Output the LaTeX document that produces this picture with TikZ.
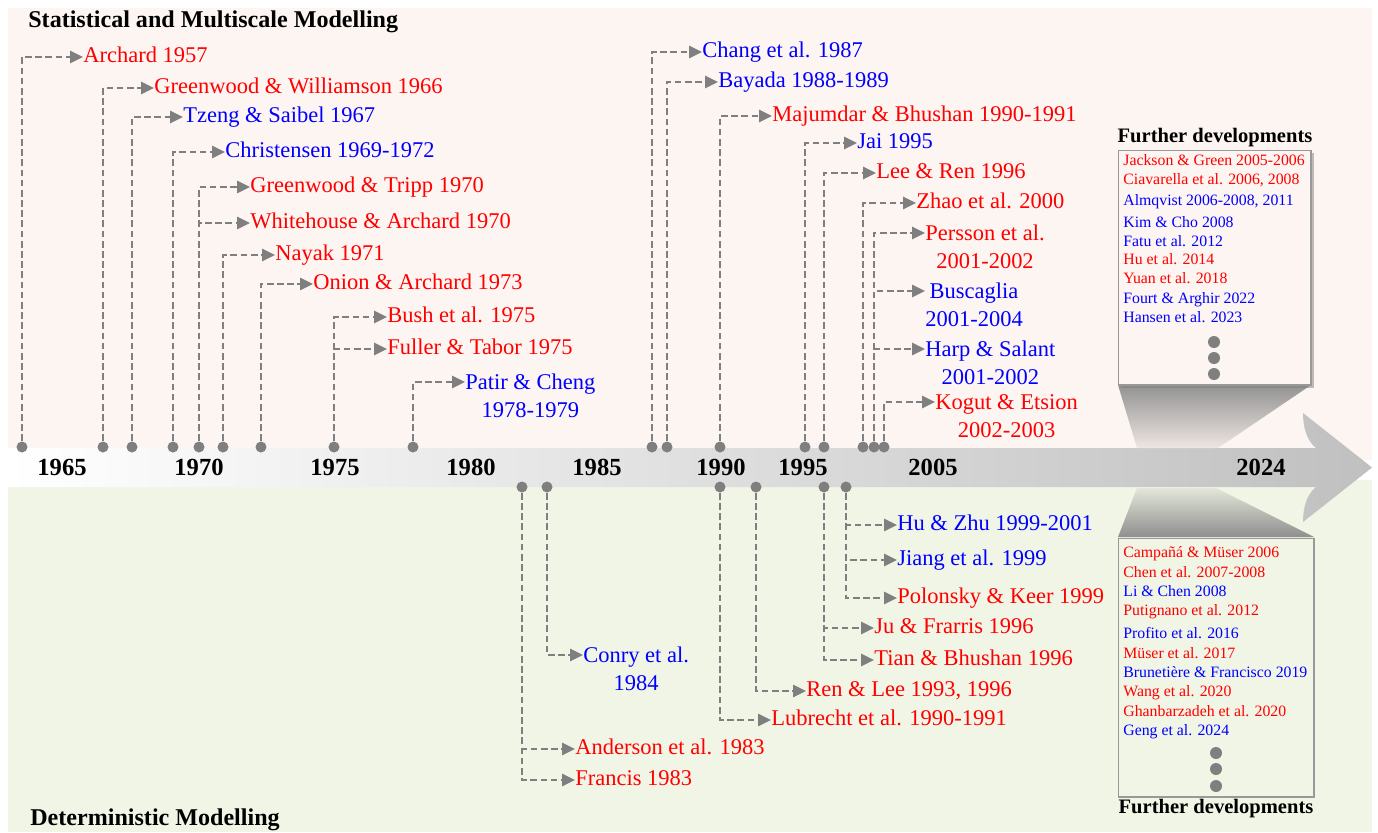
\documentclass[tikz,border=0pt]{standalone}
\usepackage{fontspec}
\setmainfont{Liberation Serif}
\usetikzlibrary{arrows.meta, shadows}
\definecolor{TopPink}{HTML}{FDF5F1}
\definecolor{LowGreen}{HTML}{F1F5E6}
\definecolor{LinkGray}{HTML}{7F7F7F}
\definecolor{RefRed}{HTML}{FF0000}
\definecolor{RefBlue}{HTML}{0000FF}
\definecolor{BandGray}{HTML}{C0C0C0}
\tikzset{
  evdot/.style={circle, fill=LinkGray, inner sep=0pt, minimum size=0.22cm},
  link/.style={-{Triangle[length=0.26cm, width=0.25cm]}, LinkGray, line width=0.9pt, dash pattern=on 3.8pt off 2pt},
  ref/.style={inner sep=0pt, anchor=west, align=center, font=\fontsize{12.8}{15.9}\selectfont},
  oneline/.style={text height=0.9em, text depth=0.22em},
  redref/.style={ref, oneline, text=RefRed},
  blueref/.style={ref, oneline, text=RefBlue},
  redtwo/.style={ref, text=RefRed},
  bluetwo/.style={ref, text=RefBlue},
  yearlbl/.style={inner sep=0pt, font=\fontsize{14}{16}\selectfont\bfseries},
  paneltitle/.style={anchor=west, inner sep=0pt, font=\fontsize{13.7}{16}\selectfont\bfseries},
  boxtitle/.style={inner sep=0pt, font=\fontsize{11.7}{14}\selectfont\bfseries},
  boxref/.style={anchor=west, inner sep=0pt, text height=0.8em, text depth=0.22em, font=\fontsize{9}{11}\selectfont},
  redbox/.style={boxref, text=RefRed},
  bluebox/.style={boxref, text=RefBlue},
  moredot/.style={circle, fill=LinkGray, inner sep=0pt, minimum size=0.24cm},
  devbox/.style={draw=gray!80, line width=0.6pt}
}
\begin{document}
\begin{tikzpicture}[x=0.02cm, y=-0.02cm]
  \useasboundingbox (0,0) rectangle (1378,832);

  % two panels
  \fill[TopPink] (8,8) rectangle (1372,460);
  \fill[LowGreen] (8,480) rectangle (1372,832);

  % time arrow
  \shade[left color=white, right color=BandGray] (8,448) -- (1316,448) .. controls (1306,440) and (1303,426) .. (1303,413) -- (1372,467.5) -- (1303,522) .. controls (1303,509) and (1306,495) .. (1316,487) -- (8,487) -- cycle;

  % funnels to the boxes
  \shade[top color=gray!85, bottom color=TopPink!94!black] (1118,385) -- (1311,385) -- (1218,448) -- (1137,448) -- cycle;
  \shade[top color=LowGreen!94!black, bottom color=gray!88] (1137,488) -- (1216,488) -- (1314,537) -- (1118,537) -- cycle;

  % years
  \node[yearlbl] (y1965) at (62,467) {1965};
  \node[yearlbl] (y1970) at (199,467) {1970};
  \node[yearlbl] (y1975) at (335,467) {1975};
  \node[yearlbl] (y1980) at (471,467) {1980};
  \node[yearlbl] (y1985) at (597,467) {1985};
  \node[yearlbl] (y1990) at (721,467) {1990};
  \node[yearlbl] (y1995) at (803,467) {1995};
  \node[yearlbl] (y2005) at (933,467) {2005};
  \node[yearlbl] (y2024) at (1261,467) {2024};

  % titles
  \node[paneltitle] (stattitle) at (28,22) {Statistical and Multiscale Modelling};
  \node[paneltitle] (dettitle) at (30,820) {Deterministic Modelling};

  % statistical: dots on the arrow
  \node[evdot] (dArchard) at (22,447) {};
  \node[evdot] (dGreenWill) at (103,447) {};
  \node[evdot] (dTzeng) at (132,447) {};
  \node[evdot] (dChristensen) at (173,447) {};
  \node[evdot] (dGreenTripp) at (199,447) {};
  \node[evdot] (dNayak) at (223,447) {};
  \node[evdot] (dOnion) at (261,447) {};
  \node[evdot] (dBush) at (334,447) {};
  \node[evdot] (dPatir) at (413,447) {};
  \node[evdot] (dChang) at (652,447) {};
  \node[evdot] (dBayada) at (667,447) {};
  \node[evdot] (dMajumdar) at (720,447) {};
  \node[evdot] (dJai) at (805,447) {};
  \node[evdot] (dLeeRen) at (824,447) {};
  \node[evdot] (dZhao) at (863,447) {};
  \node[evdot] (dPersson) at (874,447) {};
  \node[evdot] (dKogut) at (884,447) {};

  % statistical: references
  \node[redref] (archard) at (83,57) {Archard 1957};
  \node[redref] (greenwill) at (154,88) {Greenwood \& Williamson 1966};
  \node[blueref] (tzeng) at (183,117) {Tzeng \& Saibel 1967};
  \node[blueref] (christensen) at (225,152) {Christensen 1969-1972};
  \node[redref] (greentripp) at (250,187) {Greenwood \& Tripp 1970};
  \node[redref] (whitehouse) at (250,223) {Whitehouse \& Archard 1970};
  \node[redref] (nayak) at (275,255) {Nayak 1971};
  \node[redref] (onion) at (313,284) {Onion \& Archard 1973};
  \node[redref] (bush) at (387,317) {Bush et al. 1975};
  \node[redref] (fuller) at (387,349) {Fuller \& Tabor 1975};
  \node[bluetwo] (patir) at (465,396) {Patir \& Cheng\\1978-1979};
  \node[blueref] (chang) at (702,52) {Chang et al. 1987};
  \node[blueref] (bayada) at (718,82) {Bayada 1988-1989};
  \node[redref] (majumdar) at (772,116) {Majumdar \& Bhushan 1990-1991};
  \node[blueref] (jai) at (857,143) {Jai 1995};
  \node[redref] (leeren) at (876,173) {Lee \& Ren 1996};
  \node[redref] (zhao) at (916,203) {Zhao et al. 2000};
  \node[redtwo] (persson) at (925,247) {Persson et al.\\2001-2002};
  \node[bluetwo] (buscaglia) at (925,305) {Buscaglia\\2001-2004};
  \node[bluetwo] (harp) at (925,363) {Harp \& Salant\\2001-2002};
  \node[redtwo] (kogut) at (935,416) {Kogut \& Etsion\\2002-2003};

  \draw[link] (dArchard) |- (archard.west);
  \draw[link] (dGreenWill) |- (greenwill.west);
  \draw[link] (dTzeng) |- (tzeng.west);
  \draw[link] (dChristensen) |- (christensen.west);
  \draw[link] (dGreenTripp) |- (greentripp.west);
  \draw[link] (dGreenTripp) |- (whitehouse.west);
  \draw[link] (dNayak) |- (nayak.west);
  \draw[link] (dOnion) |- (onion.west);
  \draw[link] (dBush) |- (bush.west);
  \draw[link] (dBush) |- (fuller.west);
  \draw[link] (dPatir) |- ([yshift=0.28cm]patir.west);
  \draw[link] (dChang) |- (chang.west);
  \draw[link] (dBayada) |- (bayada.west);
  \draw[link] (dMajumdar) |- (majumdar.west);
  \draw[link] (dJai) |- (jai.west);
  \draw[link] (dLeeRen) |- (leeren.west);
  \draw[link] (dZhao) |- (zhao.west);
  \draw[link] (dPersson) |- ([yshift=0.28cm]persson.west);
  \draw[link] (dPersson) |- ([yshift=0.28cm]buscaglia.west);
  \draw[link] (dPersson) |- ([yshift=0.28cm]harp.west);
  \draw[link] (dKogut) |- ([yshift=0.28cm]kogut.west);

  % deterministic: dots on the arrow
  \node[evdot] (dAnderson) at (522,487) {};
  \node[evdot] (dConry) at (547,487) {};
  \node[evdot] (dLubrecht) at (720,487) {};
  \node[evdot] (dRenLee) at (756,487) {};
  \node[evdot] (dJu) at (824,487) {};
  \node[evdot] (dHuZhu) at (846,487) {};

  % deterministic: references
  \node[blueref] (huzhu) at (897,525) {Hu \& Zhu 1999-2001};
  \node[blueref] (jiang) at (897,560) {Jiang et al. 1999};
  \node[redref] (polonsky) at (897,598) {Polonsky \& Keer 1999};
  \node[redref] (ju) at (874,628) {Ju \& Frarris 1996};
  \node[redref] (tian) at (874,660) {Tian \& Bhushan 1996};
  \node[redref] (renlee) at (806,691) {Ren \& Lee 1993, 1996};
  \node[redref] (lubrecht) at (771,720) {Lubrecht et al. 1990-1991};
  \node[bluetwo] (conry) at (583,669) {Conry et al.\\1984};
  \node[redref] (anderson) at (575,749) {Anderson et al. 1983};
  \node[redref] (francis) at (575,780) {Francis 1983};

  \draw[link] (dHuZhu) |- (huzhu.west);
  \draw[link] (dHuZhu) |- (jiang.west);
  \draw[link] (dHuZhu) |- (polonsky.west);
  \draw[link] (dJu) |- (ju.west);
  \draw[link] (dJu) |- (tian.west);
  \draw[link] (dRenLee) |- (renlee.west);
  \draw[link] (dLubrecht) |- (lubrecht.west);
  \draw[link] (dConry) |- ([yshift=0.28cm]conry.west);
  \draw[link] (dAnderson) |- (anderson.west);
  \draw[link] (dAnderson) |- (francis.west);

  % further developments, statistical
  \node[devbox, fill=TopPink, minimum width=3.86cm, minimum height=4.7cm, drop shadow={shadow xshift=1.5pt, shadow yshift=-1.5pt, opacity=0.5}] (furthertop) at (1214.5,267.5) {};
  \node[boxtitle] (furthertoptitle) at (1215,138) {Further developments};
  \node[redbox] (jackson) at (1123,160) {Jackson \& Green 2005-2006};
  \node[redbox] (ciavarella) at (1123,179) {Ciavarella et al. 2006, 2008};
  \node[bluebox] (almqvist) at (1123,200) {Almqvist 2006-2008, 2011};
  \node[bluebox] (kimcho) at (1123,222) {Kim \& Cho 2008};
  \node[bluebox] (fatu) at (1123,241) {Fatu et al. 2012};
  \node[redbox] (hu) at (1123,259) {Hu et al. 2014};
  \node[redbox] (yuan) at (1123,278) {Yuan et al. 2018};
  \node[bluebox] (fourt) at (1123,298) {Fourt \& Arghir 2022};
  \node[bluebox] (hansen) at (1123,317) {Hansen et al. 2023};
  \node[moredot] (topmore1) at (1214,342) {};
  \node[moredot] (topmore2) at (1214,358) {};
  \node[moredot] (topmore3) at (1214,374) {};

  % further developments, deterministic
  \node[devbox, fill=LowGreen, minimum width=3.92cm, minimum height=5.18cm] (furtherlow) at (1216,667.5) {};
  \node[boxtitle] (furtherlowtitle) at (1216,809) {Further developments};
  \node[redbox] (campana) at (1123,552) {Campañá \& Müser 2006};
  \node[redbox] (chen) at (1123,572) {Chen et al. 2007-2008};
  \node[bluebox] (lichen) at (1123,591) {Li \& Chen 2008};
  \node[redbox] (putignano) at (1123,610) {Putignano et al. 2012};
  \node[bluebox] (profito) at (1123,633) {Profito et al. 2016};
  \node[redbox] (muser) at (1123,653) {Müser et al. 2017};
  \node[bluebox] (brunetiere) at (1123,672) {Brunetière \& Francisco 2019};
  \node[redbox] (wang) at (1123,691) {Wang et al. 2020};
  \node[redbox] (ghanbar) at (1123,711) {Ghanbarzadeh et al. 2020};
  \node[bluebox] (geng) at (1123,730) {Geng et al. 2024};
  \node[moredot] (lowmore1) at (1216,753) {};
  \node[moredot] (lowmore2) at (1216,769) {};
  \node[moredot] (lowmore3) at (1216,786) {};
\end{tikzpicture}
\end{document}
